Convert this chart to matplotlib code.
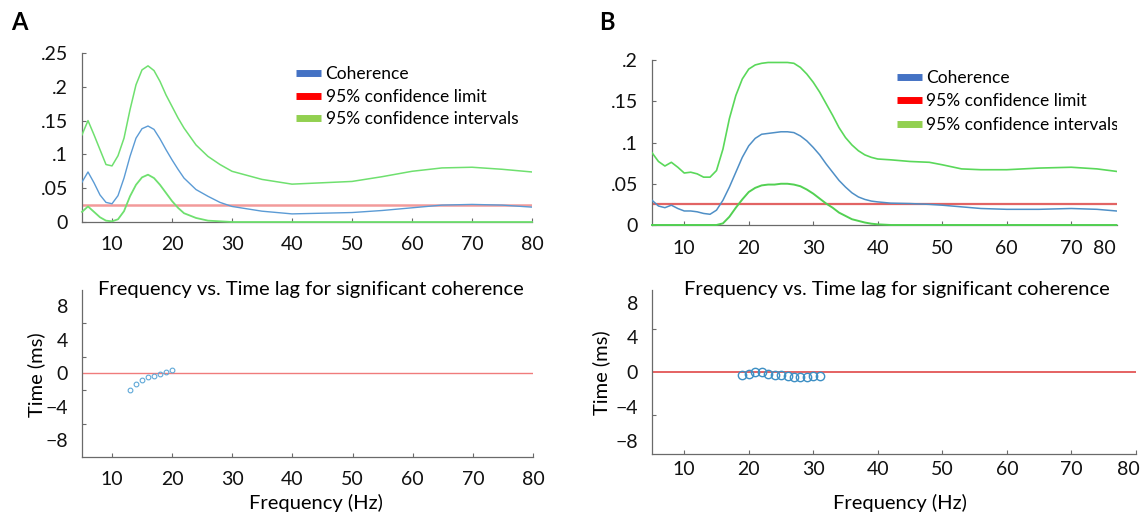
import matplotlib
matplotlib.use("Agg")
import matplotlib.pyplot as plt
from matplotlib.lines import Line2D
from matplotlib.ticker import FixedLocator
from matplotlib.transforms import ScaledTranslation

plt.rcParams['font.family'] = ['Lato', 'DejaVu Sans']

# ---------------- data ----------------
freq_a = [5, 6, 7, 8, 9, 10, 11, 12, 13, 14, 15, 16, 17, 18, 19, 20, 21, 22, 24, 26,
          28, 30, 35, 40, 45, 50, 55, 60, 65, 70, 75, 80]
coh_a = [0.059, 0.074, 0.058, 0.040, 0.029, 0.027, 0.039, 0.065, 0.097, 0.124, 0.138,
         0.142, 0.137, 0.123, 0.107, 0.092, 0.078, 0.065, 0.048, 0.038, 0.029, 0.023,
         0.016, 0.012, 0.013, 0.014, 0.017, 0.021, 0.025, 0.026, 0.025, 0.022]
upper_a = [0.129, 0.150, 0.129, 0.107, 0.085, 0.083, 0.098, 0.124, 0.166, 0.203, 0.225,
           0.231, 0.224, 0.208, 0.188, 0.171, 0.154, 0.139, 0.114, 0.097, 0.085, 0.075,
           0.063, 0.056, 0.058, 0.060, 0.067, 0.075, 0.080, 0.081, 0.078, 0.074]
lower_a = [0.015, 0.023, 0.015, 0.007, 0.002, 0.001, 0.004, 0.016, 0.038, 0.055, 0.066,
           0.070, 0.065, 0.055, 0.043, 0.031, 0.021, 0.013, 0.006, 0.002, 0.001, 0.0,
           0.0, 0.0, 0.0, 0.0, 0.0, 0.0, 0.0, 0.0, 0.0, 0.0]
limit_a = 0.025

freq_b = [5, 6, 7, 8, 9, 10, 11, 12, 13, 14, 15, 16, 17, 18, 19, 20, 21, 22, 23, 24,
          25, 26, 27, 28, 29, 30, 31, 32, 33, 34, 35, 36, 37, 38, 39, 40, 42, 45, 48,
          50, 53, 56, 60, 65, 70, 74, 77]
coh_b = [0.030, 0.023, 0.021, 0.024, 0.020, 0.017, 0.017, 0.016, 0.014, 0.013, 0.018,
         0.030, 0.046, 0.064, 0.082, 0.096, 0.105, 0.110, 0.111, 0.112, 0.113, 0.113,
         0.112, 0.108, 0.102, 0.094, 0.085, 0.074, 0.064, 0.054, 0.046, 0.039, 0.034,
         0.031, 0.029, 0.028, 0.0265, 0.026, 0.025, 0.024, 0.022, 0.020, 0.019, 0.019,
         0.020, 0.019, 0.017]
upper_b = [0.0876, 0.077, 0.0715, 0.076, 0.070, 0.063, 0.064, 0.062, 0.058, 0.058, 0.066,
           0.092, 0.129, 0.157, 0.177, 0.189, 0.194, 0.196, 0.197, 0.197, 0.197, 0.197,
           0.196, 0.191, 0.183, 0.173, 0.161, 0.147, 0.133, 0.118, 0.106, 0.097, 0.090,
           0.085, 0.082, 0.080, 0.079, 0.077, 0.076, 0.073, 0.068, 0.067, 0.067, 0.069,
           0.070, 0.068, 0.065]
lower_b = [0.0, 0.0, 0.0, 0.0, 0.0, 0.0, 0.0, 0.0, 0.0, 0.0, 0.0, 0.002, 0.010, 0.021,
           0.031, 0.040, 0.045, 0.048, 0.049, 0.049, 0.050, 0.050, 0.049, 0.047, 0.043,
           0.038, 0.032, 0.026, 0.021, 0.015, 0.011, 0.007, 0.005, 0.003, 0.0016, 0.0008,
           0.0, 0.0, 0.0, 0.0, 0.0, 0.0, 0.0, 0.0, 0.0, 0.0, 0.0]
limit_b = 0.025

lag_freq_a = [13, 14, 15, 16, 17, 18, 19, 20]
lag_time_a = [-2.0, -1.3, -0.8, -0.5, -0.3, -0.1, 0.15, 0.35]
lag_freq_b = [19, 20, 21, 22, 23, 24, 25, 26, 27, 28, 29, 30, 31]
lag_time_b = [-0.36, -0.18, -0.02, -0.02, -0.18, -0.34, -0.36, -0.5, -0.58, -0.58,
              -0.58, -0.5, -0.46]

xticks = [10, 20, 30, 40, 50, 60, 70, 80]
coh_ticks_a = [0, 0.05, 0.10, 0.15, 0.20, 0.25]
coh_labels_a = ['0', '.05', '.1', '.15', '.2', '.25']
coh_ticks_b = [0, 0.05, 0.10, 0.15, 0.20]
coh_labels_b = ['0', '.05', '.1', '.15', '.2']
time_ticks = [-8, -4, 0, 4, 8]
legend_labels = ['Coherence', '95% confidence limit', '95% confidence intervals']
title_text = 'Frequency vs. Time lag for significant coherence'

# ---------------- style ----------------
W, H = 1144, 515
fig = plt.figure(figsize=(W / 100, H / 100), dpi=100)

def px_axes(l, t, r, b):
    return fig.add_axes([l / W, 1 - b / H, (r - l) / W, (b - t) / H])

spine_col = '#6a6a6a'
c_coh = '#5b9bd5'
c_green = '#6fe06f'
TICK_FS = 14
LAB_FS = 14.5
TITLE_FS = 14.5
LEG_FS = 12.5

def style(ax):
    for s in ['top', 'right']:
        ax.spines[s].set_visible(False)
    for s in ['left', 'bottom']:
        ax.spines[s].set_color(spine_col)
        ax.spines[s].set_linewidth(0.9)
    ax.tick_params(which='both', direction='in', length=3, width=0.8, color=spine_col,
                   labelsize=TICK_FS, labelcolor='#111111')
    ax.tick_params(axis='x', pad=10)
    ax.tick_params(axis='y', pad=10)

hands = [Line2D([], [], color='#4472c4', lw=5, solid_capstyle='butt'),
         Line2D([], [], color='#ff0000', lw=5, solid_capstyle='butt'),
         Line2D([], [], color='#92d050', lw=5, solid_capstyle='butt')]

# ---------- A top ----------
axA = px_axes(82, 53, 532, 222)
axA.plot(freq_a, upper_a, color=c_green, lw=1.1, zorder=3)
axA.plot(freq_a, lower_a, color=c_green, lw=1.3, zorder=3, clip_on=False)
axA.plot(freq_a, coh_a, color=c_coh, lw=1.0, zorder=3)
axA.axhline(limit_a, color='#f29a9a', lw=1.8, zorder=2.5)
axA.set_xlim(5, 80)
axA.set_ylim(0, 0.25)
axA.set_xticks(xticks)
axA.set_yticks(coh_ticks_a, coh_labels_a)
style(axA)
axA.legend(hands, legend_labels, loc='upper left',
           bbox_to_anchor=(296 / W, 1 - 66 / H), bbox_transform=fig.transFigure,
           frameon=False, fontsize=LEG_FS, handlelength=1.45, handletextpad=0.25,
           labelspacing=0.38, borderpad=0, borderaxespad=0)

# ---------- A bottom ----------
axA2 = px_axes(82, 289.5, 533, 457)
axA2.axhline(0, color='#f07c7c', lw=1.0, zorder=2)
axA2.plot(lag_freq_a, lag_time_a, 'o', mfc='none', mec='#5fa8d8', ms=3.4, mew=0.8, zorder=3)
axA2.set_xlim(5, 80)
axA2.set_ylim(-10, 10)
axA2.set_xticks(xticks)
axA2.set_yticks(time_ticks)
axA2.yaxis.set_minor_locator(FixedLocator([-6, -2, 2, 6]))
style(axA2)
axA2.tick_params(axis='y', which='major', length=0)
axA2.text(0.507, 1.0, title_text, transform=axA2.transAxes, ha='center', va='center',
          fontsize=TITLE_FS)
axA2.set_xlabel('Frequency (Hz)', fontsize=LAB_FS)
axA2.xaxis.set_label_coords(0.518, -0.275)
axA2.xaxis.label.set_verticalalignment('center')
axA2.set_ylabel('Time (ms)', fontsize=LAB_FS)
axA2.yaxis.set_label_coords(-0.102, 0.49)
axA2.yaxis.label.set_verticalalignment('center')

# ---------- B top ----------
axB = px_axes(652, 60, 1116.7, 225)
axB.plot(freq_b, upper_b, color='#5ad85a', lw=1.2, zorder=3)
axB.plot(freq_b, lower_b, color='#52d052', lw=1.4, zorder=3, clip_on=False)
axB.plot(freq_b, coh_b, color='#4f8fc6', lw=1.1, zorder=3)
axB.axhline(limit_b, color='#e26464', lw=1.6, zorder=2.5)
axB.set_xlim(5, 77.05)
axB.set_ylim(0, 0.2)
axB.set_xticks(xticks[:-1])
axB.set_xticks([75.2], ['80'], minor=True)
axB.set_yticks(coh_ticks_b, coh_labels_b)
style(axB)
axB.tick_params(axis='x', which='minor', length=0)
axB.tick_params(axis='x', which='both', pad=11)
legB = axB.legend(hands, legend_labels, loc='upper left',
                  bbox_to_anchor=(896.5 / W, 1 - 70 / H), bbox_transform=fig.transFigure,
                  frameon=False, fontsize=LEG_FS, handlelength=1.45, handletextpad=0.25,
                  labelspacing=0.42, borderpad=0, borderaxespad=0)
for t in legB.get_texts():
    t.set_clip_on(True)
    t.set_clip_box(axB.bbox)

# ---------- B bottom ----------
axB2 = px_axes(652, 290, 1136, 454)
axB2.axhline(0, color='#e04848', lw=1.2, zorder=2)
axB2.plot(lag_freq_b, lag_time_b, 'o', mfc='none', mec='#3d8fc4', ms=6, mew=1.0, zorder=3)
axB2.set_xlim(5, 80)
axB2.set_ylim(-9.5, 9.5)
axB2.set_xticks(xticks)
axB2.set_yticks(time_ticks)
axB2.yaxis.set_minor_locator(FixedLocator([-5, 5]))
style(axB2)
axB2.tick_params(axis='y', which='major', length=0)
axB2.tick_params(axis='x', pad=5)
axB2.text(0.506, 1.0, title_text, transform=axB2.transAxes, ha='center', va='center',
          fontsize=TITLE_FS)
axB2.set_xlabel('Frequency (Hz)', fontsize=LAB_FS)
axB2.xaxis.set_label_coords(0.512, -0.299)
axB2.xaxis.label.set_verticalalignment('center')
axB2.set_ylabel('Time (ms)', fontsize=LAB_FS)
axB2.yaxis.set_label_coords(-0.104, 0.494)
axB2.yaxis.label.set_verticalalignment('center')

fig.canvas.draw()
last = axB2.xaxis.get_major_ticks()[-1].label1
last.set_transform(last.get_transform() + ScaledTranslation(-8 / 100, 0, fig.dpi_scale_trans))

# panel letters
fig.text(19 / W, 1 - 22 / H, 'A', fontsize=17, fontweight='bold', ha='center', va='center')
fig.text(607 / W, 1 - 22 / H, 'B', fontsize=17, fontweight='bold', ha='center', va='center')

fig.savefig('out.png', dpi=100)
